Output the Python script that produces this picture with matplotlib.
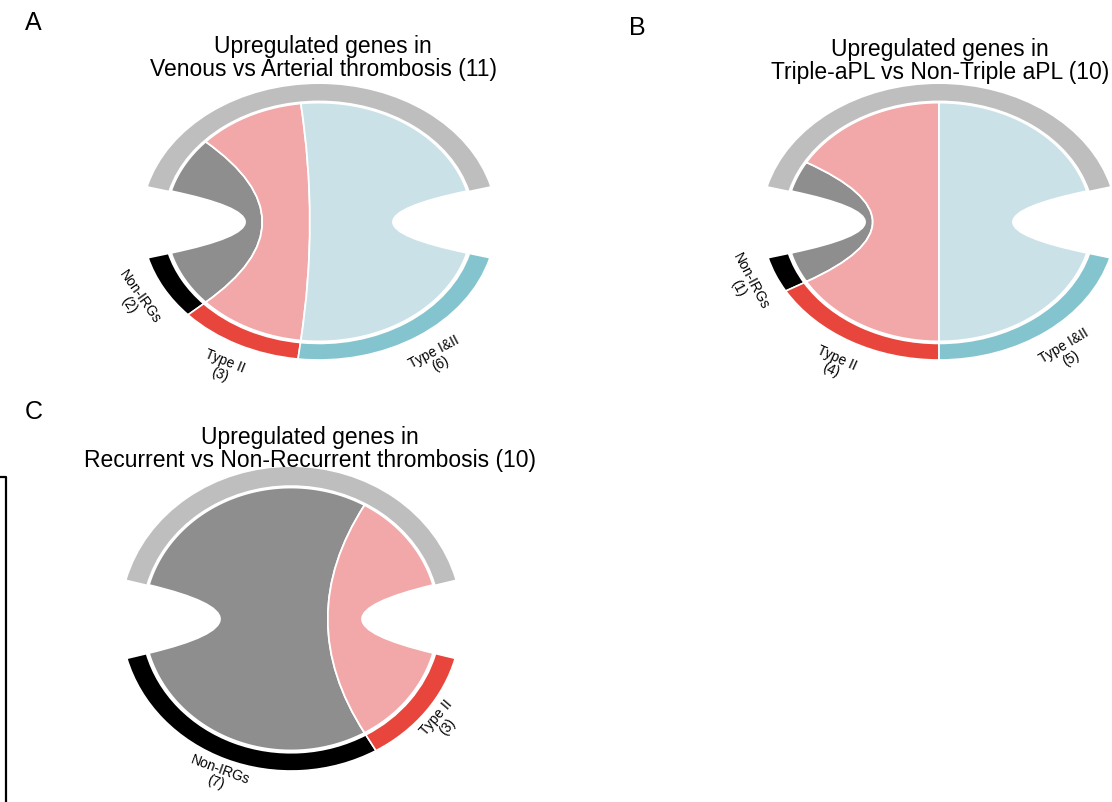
import numpy as np
import matplotlib.pyplot as plt
from matplotlib.patches import Wedge, PathPatch
from matplotlib.path import Path

plt.rcParams['font.family'] = ['Liberation Sans', 'DejaVu Sans']

# gene counts per category for each comparison
venous_cats = ["Non-IRGs", "Type II", "Type I&II"]
venous_counts = [2, 3, 6]
triple_cats = ["Non-IRGs", "Type II", "Type I&II"]
triple_counts = [1, 4, 5]
recurrent_cats = ["Non-IRGs", "Type II"]
recurrent_counts = [7, 3]

# arc colour and (lighter) chord colour per category
arc_col = {"Non-IRGs": "#000000", "Type II": "#e8453c", "Type I&II": "#84c4ce"}
chord_col = {"Non-IRGs": "#8e8e8e", "Type II": "#f2a7a8", "Type I&II": "#c9e1e7"}
top_col = "#bebebe"

W, H = 1112, 802
fig = plt.figure(figsize=(W / 100, H / 100), dpi=100)


def fx(x, y):
    return x / W, 1 - y / H


def pt(deg, r):
    t = np.radians(deg)
    return r * np.cos(t), r * np.sin(t)


def ribbon(ax, a1, a2, b1, b2, color, r=0.865):
    # bottom arc a1->a2, bezier to b2, top arc b2->b1, bezier back to a1
    ta = np.linspace(a1, a2, 80)
    verts = [pt(t, r) for t in ta]
    codes = [Path.MOVETO] + [Path.LINETO] * (len(ta) - 1)
    verts += [(0, 0), pt(b2, r)]
    codes += [Path.CURVE3, Path.CURVE3]
    tb = np.linspace(b2, b1, 80)[1:]
    verts += [pt(t, r) for t in tb]
    codes += [Path.LINETO] * len(tb)
    verts += [(0, 0), pt(a1, r), (0, 0)]
    codes += [Path.CURVE3, Path.CURVE3, Path.CLOSEPOLY]
    ax.add_patch(PathPatch(Path(verts, codes), facecolor=color,
                           edgecolor="white", lw=1.3, zorder=2))


def chord_panel(cx, cy, rx, ry, cats, counts, lab_r=1.19):
    ax = fig.add_axes([(cx - rx) / W, 1 - (cy + ry) / H, 2 * rx / W, 2 * ry / H])
    ax.set_xlim(-1, 1)
    ax.set_ylim(-1, 1)
    ax.axis("off")
    gap = 15
    span = 180 - 2 * gap
    unit = span / sum(counts)
    # the single top sector holding all genes
    ax.add_patch(Wedge((0, 0), 1.0, gap, 180 - gap, width=0.12,
                       facecolor=top_col, edgecolor="none", zorder=1))
    a = 180 + gap
    b = 180 - gap
    for c, n in zip(cats, counts):
        a2 = a + n * unit
        b2 = b - n * unit
        ax.add_patch(Wedge((0, 0), 1.0, a, a2, width=0.12,
                           facecolor=arc_col[c], edgecolor="white", lw=1.2, zorder=1))
        ribbon(ax, a, a2, b, b2, chord_col[c])
        mid = np.radians((a + a2) / 2)
        rot = np.degrees(np.arctan2(ry * np.cos(mid), -rx * np.sin(mid)))
        lx, ly = pt((a + a2) / 2, lab_r)
        ax.text(lx, ly, f"{c}\n({n})", rotation=rot, rotation_mode="anchor",
                ha="center", va="center", fontsize=10, linespacing=1.0,
                clip_on=False)
        a, b = a2, b2
    return ax


chord_panel(319, 222, 177, 138, venous_cats, venous_counts)
chord_panel(939, 222, 177, 138, triple_cats, triple_counts)
chord_panel(291, 619, 170, 152, recurrent_cats, recurrent_counts, lab_r=1.12)

fig.text(*fx(323, 58), "Upregulated genes in\nVenous vs Arterial thrombosis (11)",
         ha="center", va="center", fontsize=16.5, linespacing=1.0)
fig.text(*fx(940, 61), "Upregulated genes in\nTriple-aPL vs Non-Triple aPL (10)",
         ha="center", va="center", fontsize=16.5, linespacing=1.0)
fig.text(*fx(310, 449), "Upregulated genes in\nRecurrent vs Non-Recurrent thrombosis (10)",
         ha="center", va="center", fontsize=16.5, linespacing=1.0)

fig.text(*fx(33, 23), "A", ha="center", va="center", fontsize=18)
fig.text(*fx(637, 28), "B", ha="center", va="center", fontsize=18)
fig.text(*fx(34, 412), "C", ha="center", va="center", fontsize=18)

# bracket at the left edge of panel C
fig.add_artist(plt.Line2D([0, 6 / W, 6 / W], [1 - 477 / H, 1 - 477 / H, 0],
                          color="black", lw=1.6))

plt.savefig("out.png", dpi=100)
